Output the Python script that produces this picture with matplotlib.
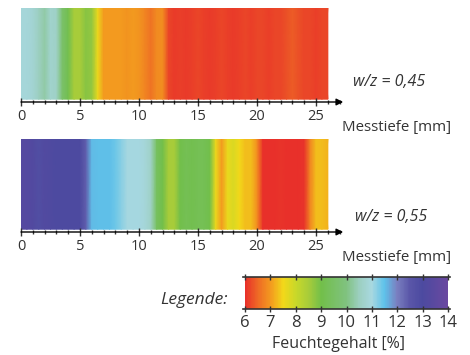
import numpy as np
import matplotlib
matplotlib.use("Agg")
import matplotlib.pyplot as plt
from matplotlib.colors import LinearSegmentedColormap, Normalize
from matplotlib.cm import ScalarMappable
from matplotlib.ticker import MultipleLocator

plt.rcParams['font.family'] = ['Open Sans', 'DejaVu Sans']

# Messtiefe in mm, 0.5 mm Schritte
depth = np.arange(0, 26.01, 0.5)

# Feuchtegehalt [%], w/z = 0,45
moist_045 = [10.9, 10.9, 10.8, 10.5, 10.3, 10.7, 10.6, 9.6, 9.1, 8.5,
             8.5, 8.8, 8.7, 7.6, 7.0, 7.0, 7.0, 7.0, 6.95, 7.0,
             6.95, 6.8, 6.6, 6.85, 6.9, 6.2, 6.1, 6.15, 6.1, 6.15,
             6.2, 6.15, 6.1, 6.15, 6.2, 6.15, 6.1, 6.15, 6.2, 6.15,
             6.2, 6.2, 6.15, 6.2, 6.2, 6.3, 6.4, 6.3, 6.2, 6.2,
             6.15, 6.2, 6.2]

# Feuchtegehalt [%], w/z = 0,55
moist_055 = [13.3, 13.3, 13.2, 12.8, 13.2, 13.1, 13.0, 13.0, 13.0, 13.0,
             13.0, 12.4, 11.55, 11.5, 11.5, 11.5, 11.4, 11.2, 11.0, 11.0,
             11.0, 10.9, 10.6, 9.4, 9.0, 8.5, 8.5, 9.0, 9.2, 9.1,
             9.2, 9.2, 9.0, 7.6, 7.0, 7.6, 7.8, 7.5, 7.3, 7.3,
             6.9, 6.0, 6.0, 6.0, 6.05, 6.0, 6.0, 6.0, 6.05, 6.8,
             7.3, 7.3, 7.2]

# Farbskala der Legende
cb_values = [6.0, 6.5, 7.0, 7.5, 8.0, 8.5, 9.0, 10.0, 10.5, 11.0, 11.5,
             12.0, 12.5, 13.0, 14.0]
cb_colors = ['#e8302a', '#ee6a25', '#f39a1f', '#f2d81a', '#c8d82a',
             '#a8cc3a', '#72bf4a', '#80c280', '#9ccfc0', '#a8d8e0',
             '#5ec2ea', '#7a7fc0', '#5a56a8', '#4c4aa0', '#6a48a0']
cb_ticks = list(range(6, 15))

vmin, vmax = 6, 14
cmap = LinearSegmentedColormap.from_list(
    'feuchte', [((v - vmin) / (vmax - vmin), c) for v, c in zip(cb_values, cb_colors)])
norm = Normalize(vmin, vmax)

W, H = 470, 355
txt = '#333333'
line = '#333333'

fig = plt.figure(figsize=(W / 100, H / 100), dpi=100)


def px(x0, y0, x1, y1):
    return [x0 / W, 1 - y1 / H, (x1 - x0) / W, (y1 - y0) / H]


def strip(rect, values):
    ax = fig.add_axes(rect)
    X, Y = np.meshgrid(depth, [0.03, 1.0])
    C = np.vstack([values, values])
    ax.pcolormesh(X, Y, C, cmap=cmap, norm=norm, shading='gouraud')
    ax.set_xlim(0, 27.2)
    ax.set_ylim(0, 1)
    for s in ax.spines.values():
        s.set_visible(False)
    ax.annotate('', xy=(27.3, 0), xytext=(0, 0), xycoords='data',
                arrowprops=dict(arrowstyle='-|>', color='black', lw=1.0,
                                mutation_scale=10, shrinkA=0, shrinkB=0),
                annotation_clip=False)
    ax.xaxis.set_minor_locator(MultipleLocator(1))
    ax.set_xticks([0, 5, 10, 15, 20, 25])
    ax.tick_params(axis='x', which='major', direction='inout', length=6,
                   width=1, color=line, labelsize=10.5, labelcolor=txt, pad=2)
    ax.tick_params(axis='x', which='minor', direction='inout', length=3,
                   width=1, color=line)
    ax.set_yticks([])
    return ax


strip(px(21, 8, 342, 102), moist_045)
strip(px(21, 139, 342, 232), moist_055)

cax = fig.add_axes(px(245, 277, 448, 309))
cb = fig.colorbar(ScalarMappable(norm=norm, cmap=cmap), cax=cax,
                  orientation='horizontal')
cb.outline.set_visible(False)
cb.set_ticks(cb_ticks)
cax.tick_params(axis='x', direction='inout', top=True, bottom=True,
                length=5, width=1, color=line, labelsize=12,
                labelcolor=txt, pad=2)
cax.axhline(0, -0.01, 1.01, color=line, lw=1.2, clip_on=False)
cax.axhline(1, -0.01, 1.01, color=line, lw=1.2, clip_on=False)


def ftext(x, y, s, size=10.5, **kw):
    fig.text(x / W, 1 - y / H, s, color=txt, fontsize=size, va='center', **kw)


ftext(389, 82, 'w/z = 0,45', size=11.5, ha='center', style='italic')
ftext(397, 128, 'Messtiefe [mm]', size=10.8, ha='center')
ftext(391, 217, 'w/z = 0,55', size=11.5, ha='center', style='italic')
ftext(397, 258, 'Messtiefe [mm]', size=10.8, ha='center')
ftext(228, 300, 'Legende:', size=12.5, ha='right', style='italic')
ftext(339, 344, 'Feuchtegehalt [%]', size=11.5, ha='center')

fig.savefig('out.png', dpi=100)
